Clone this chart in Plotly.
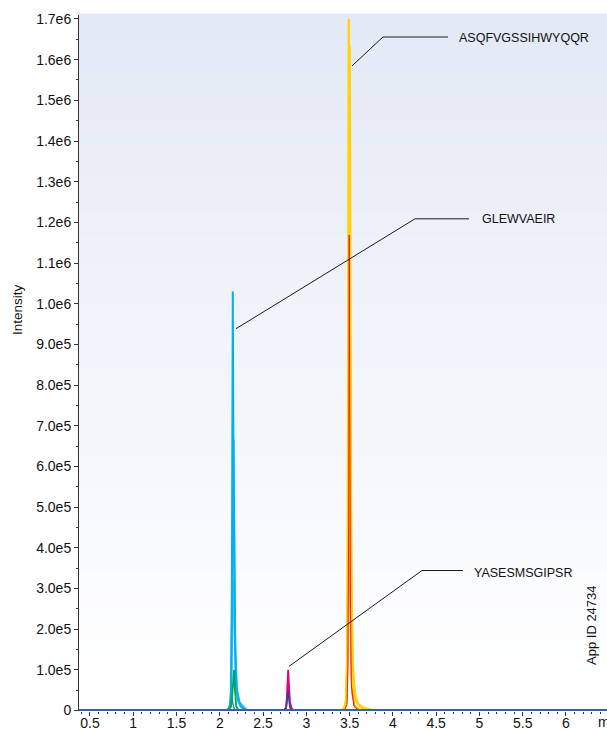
import plotly.graph_objects as go

# ---------------- data ----------------
baseline_t = [0.37, 6.5]
baseline_y = [0, 0]

cyan_a_t = [2.06, 2.10, 2.12, 2.13, 2.14, 2.145, 2.15, 2.155, 2.16, 2.17, 2.18, 2.19, 2.21, 2.24, 2.28, 2.32]
cyan_a_y = [0, 2e3, 1.5e4, 6e4, 3.2e5, 5.4e5, 1.03e6, 7.4e5, 4.99e5, 2.6e5, 1.4e5, 6e4, 2.5e4, 1e4, 3e3, 0]
cyan_b_t = [2.07, 2.11, 2.13, 2.14, 2.15, 2.16, 2.165, 2.17, 2.18, 2.20, 2.23, 2.27, 2.31]
cyan_b_y = [0, 5e3, 4e4, 1.67e5, 4.0e5, 6.66e5, 5.0e5, 3.2e5, 1.5e5, 5e4, 2e4, 8e3, 0]
cyan_c_t = [2.08, 2.12, 2.135, 2.145, 2.155, 2.165, 2.175, 2.19, 2.22, 2.26, 2.30, 2.33]
cyan_c_y = [0, 8e3, 5e4, 2.2e5, 3.22e5, 2.4e5, 1.2e5, 5e4, 2.2e4, 1.2e4, 4e3, 0]

green_t = [2.10, 2.13, 2.145, 2.155, 2.165, 2.175, 2.19, 2.22]
green_y = [0, 1e4, 4e4, 7e4, 1.0e5, 5e4, 1e4, 0]
teal_t = [2.10, 2.125, 2.14, 2.15, 2.16, 2.18]
teal_y = [0, 1e4, 3e4, 2e4, 8e3, 0]

pink_t = [2.74, 2.765, 2.775, 2.785, 2.795, 2.805, 2.82, 2.85]
pink_y = [0, 8e3, 3e4, 7e4, 5e4, 2.5e4, 6e3, 0]
magenta_t = [2.74, 2.765, 2.775, 2.785, 2.79, 2.80, 2.81, 2.83, 2.86]
magenta_y = [0, 5e3, 3e4, 8e4, 1.0e5, 6e4, 2e4, 5e3, 0]
purple_t = [2.75, 2.77, 2.78, 2.79, 2.80, 2.81, 2.83]
purple_y = [0, 1e4, 3e4, 5e4, 2.5e4, 8e3, 0]

yellow_a_t = [3.40, 3.44, 3.46, 3.47, 3.48, 3.485, 3.49, 3.495, 3.50, 3.51, 3.52, 3.54, 3.57, 3.62, 3.70, 3.78]
yellow_a_y = [0, 5e3, 3e4, 1.2e5, 6e5, 1.3e6, 1.7e6, 1.55e6, 1.2e6, 5e5, 1.8e5, 6e4, 2.5e4, 1e4, 4e3, 0]
yellow_b_t = [3.41, 3.45, 3.47, 3.48, 3.49, 3.50, 3.505, 3.51, 3.52, 3.535, 3.56, 3.60, 3.68, 3.76]
yellow_b_y = [0, 8e3, 5e4, 2.5e5, 9e5, 1.636e6, 1.4e6, 9e5, 3.5e5, 1.2e5, 4e4, 1.5e4, 5e3, 0]
yellow_c_t = [3.42, 3.46, 3.48, 3.49, 3.50, 3.51, 3.52, 3.54, 3.58, 3.66]
yellow_c_y = [0, 2e4, 2e5, 7e5, 1.21e6, 8e5, 3e5, 8e4, 2e4, 0]
orange_t = [3.43, 3.46, 3.475, 3.485, 3.495, 3.505, 3.515, 3.53, 3.56, 3.62]
orange_y = [0, 2e4, 1.5e5, 5e5, 7.8e5, 4.5e5, 1.5e5, 4e4, 1e4, 0]
red_t = [3.44, 3.47, 3.48, 3.49, 3.495, 3.50, 3.51, 3.52, 3.55, 3.60]
red_y = [0, 1.5e4, 1e5, 5e5, 1.169e6, 8e5, 2.5e5, 6e4, 1e4, 0]
lightred_t = [3.44, 3.47, 3.485, 3.495, 3.505, 3.52, 3.55, 3.60]
lightred_y = [0, 3e4, 2e5, 4.4e5, 3e5, 8e4, 1.5e4, 0]

y_tickvals = [0, 1e5, 2e5, 3e5, 4e5, 5e5, 6e5, 7e5, 8e5, 9e5, 1.0e6, 1.1e6, 1.2e6, 1.3e6, 1.4e6, 1.5e6, 1.6e6, 1.7e6]
y_ticktext = ["0", "1.0e5", "2.0e5", "3.0e5", "4.0e5", "5.0e5", "6.0e5", "7.0e5", "8.0e5", "9.0e5",
              "1.0e6", "1.1e6", "1.2e6", "1.3e6", "1.4e6", "1.5e6", "1.6e6", "1.7e6"]
x_tickvals = [0.5, 1, 1.5, 2, 2.5, 3, 3.5, 4, 4.5, 5, 5.5, 6]
x_ticktext = ["0.5", "1", "1.5", "2", "2.5", "3", "3.5", "4", "4.5", "5", "5.5", "6"]

peptide_labels = ["ASQFVGSSIHWYQQR", "GLEWVAEIR", "YASESMSGIPSR"]
# leader line anchor points (tip at peak, elbow, end near text) and label positions
leader_tip = [(3.527, 1.5845e6), (2.187, 9.384e5), (2.799, 1.081e5)]
leader_elbow = [(3.885, 1.6557e6), (4.255, 1.2086e6), (4.336, 3.439e5)]
leader_end_x = [4.636, 4.879, 4.810]
label_pos = [(4.740, 1.653e6), (5.006, 1.2086e6), (4.914, 3.366e5)]

FONT = "Liberation Sans, Arial, Helvetica, sans-serif"

fig = go.Figure()

def add(t, y, color, width=1.6):
    fig.add_trace(go.Scatter(x=t, y=y, mode="lines", line=dict(color=color, width=width),
                             hoverinfo="skip", showlegend=False))

add(cyan_c_t, cyan_c_y, "#6fcdf3", 1.8)
add(cyan_b_t, cyan_b_y, "#29b1ea", 1.8)
add(cyan_a_t, cyan_a_y, "#00b0f0", 2.0)
add(teal_t, teal_y, "#1a9a8a", 1.4)
add(green_t, green_y, "#00a651", 1.8)
add(pink_t, pink_y, "#f06eaa", 1.6)
add(magenta_t, magenta_y, "#e6007e", 1.8)
add(purple_t, purple_y, "#3a3f98", 1.6)
add(lightred_t, lightred_y, "#f4877d", 1.4)
add(orange_t, orange_y, "#f7941d", 1.8)
add(yellow_c_t, yellow_c_y, "#fdc82f", 2.0)
add(yellow_b_t, yellow_b_y, "#ffcc1a", 2.2)
add(yellow_a_t, yellow_a_y, "#ffd200", 2.2)
add(red_t, red_y, "#ed1c24", 1.0)
add(baseline_t, baseline_y, "#3d5da6", 3.0)

# gradient background (light blue at top, white at bottom)
shapes = []
n = 60
top = (227, 233, 245)
for i in range(n):
    y0 = i / n
    y1 = (i + 1) / n
    f = max(0.0, min(1.0, (y0 - 0.03) / 0.97))
    c = tuple(int(round(255 + (tc - 255) * f)) for tc in top)
    shapes.append(dict(type="rect", xref="paper", yref="paper", x0=0, x1=1, y0=y0, y1=y1 + 0.002,
                       fillcolor="rgb(%d,%d,%d)" % c, line=dict(width=0), layer="below"))

for tip, elbow, ex in zip(leader_tip, leader_elbow, leader_end_x):
    shapes.append(dict(type="path", xref="x", yref="y",
                       path="M %f,%f L %f,%f L %f,%f" % (tip[0], tip[1], elbow[0], elbow[1], ex, elbow[1]),
                       line=dict(color="#1a1a1a", width=1)))

annotations = []
for txt, (lx, ly) in zip(peptide_labels, label_pos):
    annotations.append(dict(x=lx, y=ly, xref="x", yref="y", text=txt, showarrow=False,
                            xanchor="left", yanchor="middle",
                            font=dict(family=FONT, size=12.5, color="#111")))

annotations.append(dict(x=-0.1174, y=0.576, xref="paper", yref="paper", text="Intensity",
                        textangle=-90, showarrow=False, xanchor="center", yanchor="middle",
                        font=dict(family=FONT, size=13.5, color="#111")))
annotations.append(dict(x=0.9716, y=0.1236, xref="paper", yref="paper", text="App ID 24734",
                        textangle=-90, showarrow=False, xanchor="center", yanchor="middle",
                        font=dict(family=FONT, size=13, color="#111")))
annotations.append(dict(x=1.004, y=-0.0158, xref="paper", yref="paper", text="min",
                        showarrow=False, xanchor="center", yanchor="middle",
                        font=dict(family=FONT, size=14, color="#111")))

fig.update_layout(
    width=607, height=730,
    margin=dict(l=79, r=0, t=15, b=19, autoexpand=False),
    paper_bgcolor="white", plot_bgcolor="white",
    shapes=shapes, annotations=annotations,
    showlegend=False,
    font=dict(family=FONT, size=14, color="#111"),
)
fig.update_xaxes(range=[0.373, 6.474], tickvals=x_tickvals, ticktext=x_ticktext, automargin=False,
                 showgrid=False, zeroline=False, showline=False,
                 ticks="outside", ticklen=4, tickcolor="#333", tickwidth=1,
                 ticklabelstandoff=-5,
                 tickfont=dict(family=FONT, size=14, color="#111"),
                 minor=dict(dtick=0.1, tick0=0, ticks="outside", ticklen=2, tickcolor="#333", showgrid=False))
fig.update_yaxes(range=[-1500, 1.7098e6], tickvals=y_tickvals, ticktext=y_ticktext, automargin=False,
                 showgrid=False, zeroline=False, showline=True, linecolor="#333", linewidth=1,
                 ticks="outside", ticklen=4, tickcolor="#333", tickwidth=1,
                 tickfont=dict(family=FONT, size=14, color="#111"),
                 minor=dict(dtick=5e4, tick0=0, ticks="outside", ticklen=2, tickcolor="#333", showgrid=False))

fig.write_html("out.html", config={"displayModeBar": False},
               post_script="document.body.style.margin='0';document.body.style.overflow='hidden';")
